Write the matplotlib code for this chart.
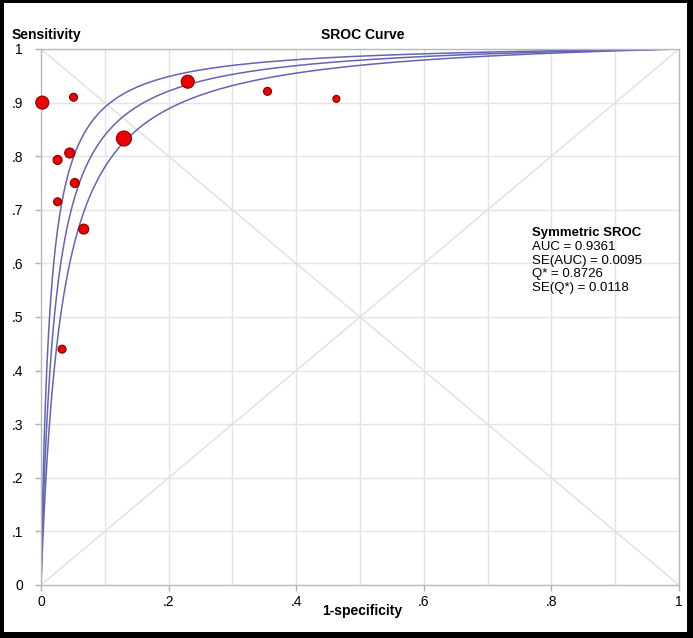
"""
Symmetric SROC curve (Moses-Littenberg, b = 0) with study points.
"""

import numpy as np
import matplotlib.pyplot as plt
from matplotlib.patches import Rectangle

plt.rcParams["font.family"] = ["Liberation Sans", "DejaVu Sans"]

# Study data
fpr = [0.002, 0.051, 0.230, 0.355, 0.463, 0.130, 0.026, 0.045, 0.053, 0.026, 0.067, 0.033]
tpr = [0.900, 0.910, 0.939, 0.921, 0.907, 0.833, 0.793, 0.806, 0.750, 0.715, 0.664, 0.440]
weight = [13, 8, 13, 8, 7, 15, 9, 10, 9, 8, 10, 8]  # marker diameter, px

# Summary statistics shown in the box
auc = 0.9361
se_auc = 0.0095
q_star = 0.8726
se_q = 0.0118

y_ticks = [0, .1, .2, .3, .4, .5, .6, .7, .8, .9, 1]
y_labels = ["0", ".1", ".2", ".3", ".4", ".5", ".6", ".7", ".8", ".9", "1"]
x_ticks = [0, .2, .4, .6, .8, 1]
x_labels = ["0", ".2", ".4", ".6", ".8", "1"]


def logit(p):
    return np.log(p / (1 - p))


def sroc(q, x):
    # symmetric curve: logit(sens) = a + logit(fpr), a = 2*logit(Q*)
    a = 2 * logit(q)
    return 1 / (1 + np.exp(-(a + logit(x))))


fig = plt.figure(figsize=(6.93, 6.38), dpi=100)
fig.patch.set_facecolor("black")
fig.patches.append(Rectangle((4 / 693, 6 / 638), 1 - 10 / 693, 1 - 9 / 638,
                             transform=fig.transFigure, facecolor="white",
                             edgecolor="none", zorder=-10))

ax = fig.add_axes([41 / 693, 1 - 585 / 638, 638 / 693, 536 / 638])
ax.set_facecolor("white")
ax.set_xlim(0, 1)
ax.set_ylim(0, 1)

# grid and diagonals
for v in np.arange(0.1, 1.0, 0.1):
    ax.axvline(v, color="#e4e4e4", lw=1, zorder=1)
    ax.axhline(v, color="#e4e4e4", lw=1, zorder=1)
ax.plot([0, 1], [1, 0], color="#e0e0e0", lw=1, zorder=1)
ax.plot([0, 1], [0, 1], color="#e0e0e0", lw=1, zorder=1)

# SROC curve with confidence band
xs = np.linspace(1e-5, 1, 2000)[:-1]
xs = np.append(xs, 1 - 1e-9)
for q in [q_star - 1.96 * se_q, q_star, q_star + 1.96 * se_q]:
    ax.plot(np.r_[0, xs, 1], np.r_[0, sroc(q, xs), 1], color="#6464b4", lw=1.1, zorder=2)

sizes = [(d * 0.72) ** 2 for d in weight]
ax.scatter(fpr, tpr, s=sizes, color="#ee0000", edgecolor="#8a0000", lw=0.8,
           zorder=3, clip_on=False)

for s in ax.spines.values():
    s.set_color("#b8b8b8")
    s.set_linewidth(1)

ax.set_yticks(y_ticks)
ax.set_yticklabels(y_labels)
ax.set_xticks(x_ticks)
ax.set_xticklabels(x_labels)
ax.tick_params(axis="both", colors="#b0b0b0", labelcolor="black", length=4,
               width=1, labelsize=10)
ax.tick_params(axis="y", pad=9)
ax.tick_params(axis="x", pad=3)

fig.text(12 / 693, 1 - 35 / 638, "Sensitivity", fontsize=10, fontweight="bold",
         va="center", ha="left")
fig.text(363 / 693, 1 - 35 / 638, "SROC Curve", fontsize=10, fontweight="bold",
         va="center", ha="center")
fig.text(362 / 693, 1 - 611 / 638, "1-specificity", fontsize=10, fontweight="bold",
         va="center", ha="center")

ax.text(0.769, 0.657, "Symmetric SROC", fontsize=9.5, fontweight="bold",
        transform=ax.transAxes, va="center")
stats = "AUC = %.4f\nSE(AUC) = %.4f\nQ* = %.4f\nSE(Q*) = %.4f" % (auc, se_auc, q_star, se_q)
ax.text(0.769, 0.642, stats, fontsize=9.5, transform=ax.transAxes, va="top",
        linespacing=1.2)

plt.savefig("out.png", dpi=100, facecolor=fig.get_facecolor())
